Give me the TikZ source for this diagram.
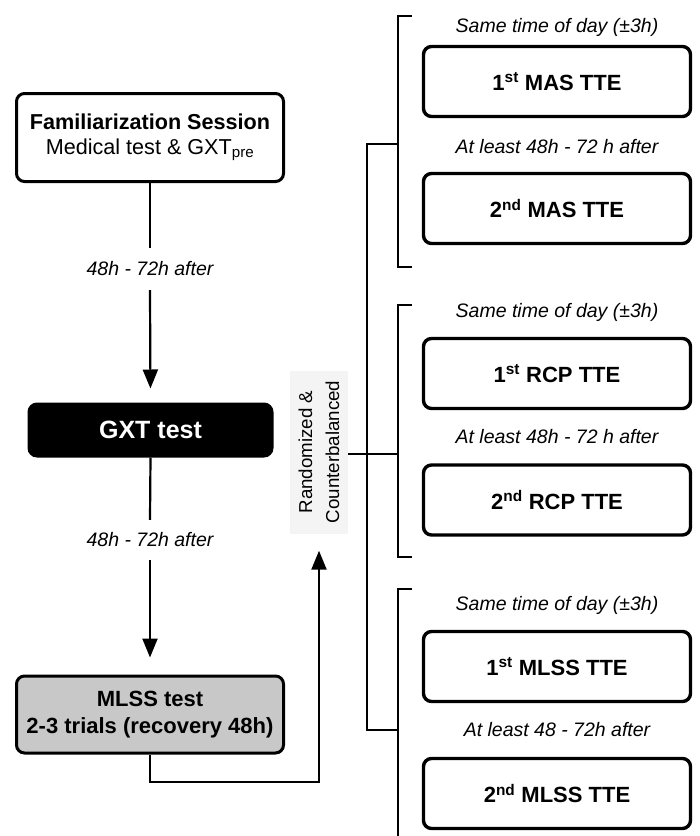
\documentclass[tikz,border=0pt]{standalone}
\usepackage{fontspec}
\setmainfont{Liberation Sans}
\usetikzlibrary{arrows.meta}
\definecolor{mlssgray}{RGB}{200,200,200}
\definecolor{randbg}{RGB}{244,244,244}
\begin{document}
\begin{tikzpicture}[x=1pt,y=-1pt,
  box/.style={draw, rounded corners=8pt, line width=3pt, align=center, inner sep=0pt},
  lbox/.style={box, minimum width=267pt},
  rbox/.style={box, line width=3.4pt, minimum width=267pt, minimum height=70pt, font=\fontsize{22}{26}\selectfont\bfseries},
  lab/.style={font=\fontsize{19.5}{22}\selectfont\itshape, inner sep=0pt},
  conn/.style={line width=2.2pt},
  arr/.style={conn, -{Triangle[length=19pt,width=15pt]}},
]
\useasboundingbox (0,0) rectangle (700,836);

% left column
\node[lbox, minimum height=88pt, font=\fontsize{21.6}{25}\selectfont] (fam) at (150,137.5)
  {\textbf{Familiarization Session}\\Medical test \& GXT\textsubscript{pre}};
\node[lab, minimum height=42pt] (l1) at (150,269) {48h - 72h after};
\node[box, fill=black, text=white, minimum width=243pt, minimum height=52pt,
  font=\fontsize{25}{30}\selectfont\bfseries] (gxt) at (150.5,430) {GXT test};
\node[lab, minimum height=40pt] (l2) at (150,540) {48h - 72h after};
\node[lbox, fill=mlssgray, minimum height=77pt, font=\fontsize{22}{26.5}\selectfont\bfseries] (mlss) at (150,714.5)
  {MLSS test\\2-3 trials (recovery 48h)};

\draw[conn] (fam.south) -- (l1.north);
\draw[arr, shorten >=14pt] (l1.south) -- (gxt.north);
\draw[conn] (gxt.south) -- (l2.north);
\draw[arr, shorten >=17pt] (l2.south) -- (mlss.north);

% randomized label
\node[rotate=90, fill=randbg, minimum width=163pt, minimum height=58pt, inner sep=0pt,
  align=center, font=\fontsize{18.7}{27}\selectfont] (rand) at (319,452)
  {Randomized \&\\Counterbalanced};
\coordinate (m1) at (150,782);
\draw[arr, shorten >=17pt] (mlss.south) -- (m1) -| (rand.west);

% tree
\coordinate (t1) at (367,144);
\coordinate (t3) at (367,730);
\coordinate (bk1) at (398,144);
\coordinate (bk2) at (398,454);
\coordinate (bk3) at (398,730);
\draw[conn] (bk1) -- (t1) -- (t3) -- (bk3);
\draw[conn] (rand.south |- bk2) -- (bk2);

% brackets
\coordinate (g1a) at (412,16);  \coordinate (g1b) at (412,267);
\coordinate (g2a) at (412,305); \coordinate (g2b) at (412,557);
\coordinate (g3a) at (412,589); \coordinate (g3b) at (398,840);
\draw[conn] (g1a) -- (g1a -| bk1) -- (g1b -| bk1) -- (g1b);
\draw[conn] (g2a) -- (g2a -| bk2) -- (g2b -| bk2) -- (g2b);
\draw[conn] (g3a) -- (g3a -| bk3) -- (g3b);

% group 1
\node[lab] (s1) at (557,27) {Same time of day (±3h)};
\node[rbox] (a1) at (557,81.5) {1\textsuperscript{st} MAS TTE};
\node[lab] (w1) at (557,147) {At least 48h - 72 h after};
\node[rbox] (a2) at (557,208.5) {2\textsuperscript{nd} MAS TTE};
% group 2
\node[lab] (s2) at (557,312) {Same time of day (±3h)};
\node[rbox] (b1) at (557,373.5) {1\textsuperscript{st} RCP TTE};
\node[lab] (w2) at (557,437) {At least 48h - 72 h after};
\node[rbox] (b2) at (557,500) {2\textsuperscript{nd} RCP TTE};
% group 3
\node[lab] (s3) at (557,605) {Same time of day (±3h)};
\node[rbox] (c1) at (557,666.5) {1\textsuperscript{st} MLSS TTE};
\node[lab] (w3) at (557,730) {At least 48 - 72h after};
\node[rbox] (c2) at (557,793.5) {2\textsuperscript{nd} MLSS TTE};
\end{tikzpicture}
\end{document}
